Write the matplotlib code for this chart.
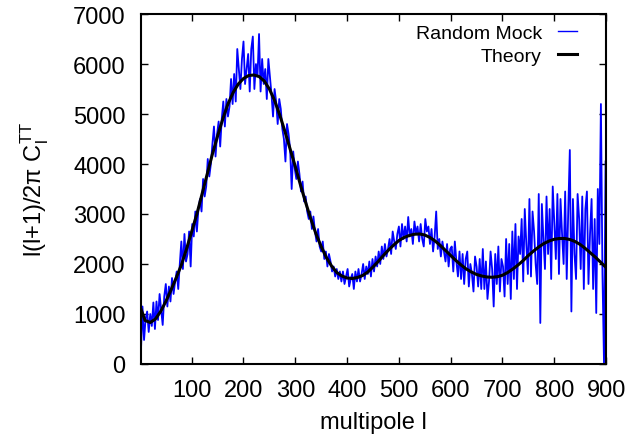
import matplotlib
matplotlib.use('Agg')
from matplotlib import pyplot as plt

plt.rcParams['font.family'] = ['Liberation Sans', 'DejaVu Sans']
plt.rcParams['mathtext.fontset'] = 'custom'
plt.rcParams['mathtext.rm'] = 'Liberation Sans'

# theory curve, read every 10 in l
theory_l = [2, 10, 20, 30, 40, 50, 60, 70, 80, 90,
            100, 110, 120, 130, 140, 150, 160, 170, 180, 190,
            200, 210, 220, 230, 240, 250, 260, 270, 280, 290,
            300, 310, 320, 330, 340, 350, 360, 370, 380, 390,
            400, 410, 420, 430, 440, 450, 460, 470, 480, 490,
            500, 510, 520, 530, 540, 550, 560, 570, 580, 590,
            600, 610, 620, 630, 640, 650, 660, 670, 680, 690,
            700, 710, 720, 730, 740, 750, 760, 770, 780, 790,
            800, 810, 820, 830, 840, 850, 860, 870, 880, 890, 900]
theory_cl = [1100, 870, 830, 900, 1050, 1250, 1480, 1720, 1980, 2300,
             2650, 3000, 3400, 3800, 4200, 4560, 4900, 5200, 5430, 5600,
             5710, 5770, 5780, 5750, 5660, 5500, 5270, 4980, 4650, 4300,
             3950, 3580, 3230, 2900, 2600, 2350, 2130, 1960, 1830, 1760,
             1720, 1710, 1730, 1770, 1840, 1940, 2050, 2170, 2280, 2380,
             2470, 2530, 2570, 2595, 2600, 2580, 2530, 2460, 2370, 2270,
             2170, 2070, 1980, 1900, 1840, 1790, 1760, 1740, 1735, 1745,
             1775, 1830, 1900, 1980, 2070, 2170, 2260, 2340, 2410, 2460,
             2495, 2510, 2510, 2490, 2450, 2390, 2310, 2220, 2130, 2030, 1930]

# random mock, read every 3 in l starting at l=2
mock_l = list(range(2, 900, 3))
mock_cl = [250, 1150, 480, 900, 1050, 640, 1000, 760, 1230, 700,
           1250, 880, 1400, 1100, 780, 1350, 1600, 1150, 1550, 1250,
           1720, 1400, 1650, 1850, 1500, 2000, 2450, 1900, 2600, 2050,
           2200, 2650, 1950, 2800, 2550, 3050, 2650, 3100, 3300, 3050,
           3700, 3350, 3550, 4100, 3750, 4000, 4400, 4750, 4150, 4600,
           4850, 4350, 4900, 5250, 4750, 5300, 4950, 5150, 5700, 5200,
           5800, 5250, 6300, 5900, 5500, 6100, 6450, 5600, 5900, 6200,
           5450, 6300, 6550, 5500, 6000, 5750, 6600, 5450, 6100, 5600,
           5900, 5300, 6100, 5750, 5400, 4950, 5500, 5250, 4800, 5300,
           5100, 4700, 4500, 4050, 4800, 4600, 4300, 3500, 4250, 3900,
           3700, 4050, 3800, 3450, 3650, 3250, 3350, 3050, 2900, 3050,
           2700, 2950, 2650, 2450, 2700, 2350, 2250, 2450, 2100, 2250,
           1950, 2200, 2050, 1850, 1950, 1750, 1900, 1700, 1850, 1650,
           1850, 1600, 1750, 1900, 1550, 1700, 1800, 1500, 1850, 1650,
           1900, 1650, 1800, 2000, 1700, 1950, 1800, 2050, 1750, 2100,
           1850, 2150, 1950, 2250, 2000, 2350, 2100, 2400, 2150, 2300,
           2500, 2200, 2650, 2450, 2300, 2600, 2750, 2350, 2800, 2500,
           2750, 2450, 2940, 2550, 2700, 2400, 2850, 2600, 2750, 2450,
           2800, 2500, 2350, 2900, 2650, 2750, 2400, 2700, 2250, 2550,
           3050, 2300, 2500, 2150, 2450, 2250, 2050, 2400, 1950, 2300,
           2350, 1850, 2450, 2050, 1750, 2250, 1700, 2200, 1600, 2100,
           2250, 1550, 2000, 1800, 1450, 2150, 1950, 1550, 2100, 1500,
           2300, 1500, 2050, 1300, 1650, 2250, 1900, 1150, 2200, 1600,
           2350, 1450, 2100, 1950, 1350, 2500, 1600, 2400, 1300, 2650,
           1700, 2800, 1500, 2550, 2200, 2900, 1650, 3100, 2400, 1800,
           3300, 1750, 3050, 2650, 2000, 1600, 3400, 820, 3200, 2500,
           1900, 3350, 2200, 3100, 1700, 3550, 2800, 2100, 3400, 1800,
           3300, 2600, 2000, 3450, 1700, 3100, 4280, 1050, 3300, 2200,
           1700, 3400, 2900, 1900, 3350, 1500, 3100, 3450, 1600, 2600,
           3300, 1500, 2900, 1020, 3500, 2400, 5200, 1800, 0, 4050]

xticks = [100, 200, 300, 400, 500, 600, 700, 800, 900]
yticks = [0, 1000, 2000, 3000, 4000, 5000, 6000, 7000]

fig = plt.figure(figsize=(6.32, 4.39), dpi=100)
ax = fig.add_axes([0.223, 0.1686, 0.736, 0.7972])

ax.plot(mock_l, mock_cl, color='#0000ff', lw=1.3, label='Random Mock')
ax.plot(theory_l, theory_cl, color='black', lw=2.2, label='Theory')

ax.set_xlim(2, 900)
ax.set_ylim(0, 7000)
ax.set_xticks(xticks)
ax.set_yticks(yticks)
ax.tick_params(direction='in', top=True, right=True, length=5, width=1,
               labelsize=17, pad=11)
for s in ax.spines.values():
    s.set_linewidth(1.5)

ax.set_xlabel('multipole l', fontsize=17, labelpad=7)
ax.set_ylabel(r'l(l+1)/2π C$_\mathregular{l}^\mathregular{TT}$', fontsize=17, labelpad=16)

leg = ax.legend(loc='upper right', bbox_to_anchor=(0.975, 1.02), frameon=False,
                markerfirst=False, fontsize=14, handlelength=1.0, handletextpad=0.8,
                labelspacing=0.25)
leg.get_lines()[0].set_linewidth(1.0)

fig.savefig('out.png', dpi=100)
